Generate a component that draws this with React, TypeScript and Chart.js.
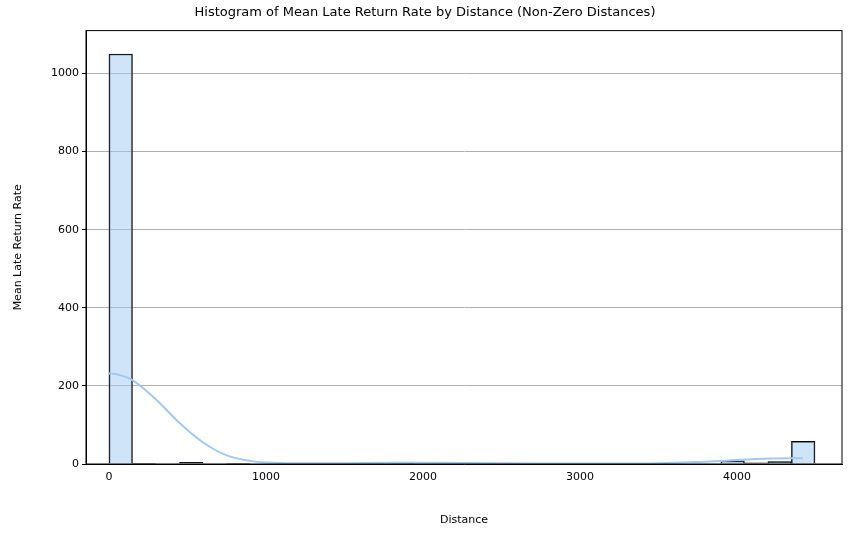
import React, { useEffect, useRef } from "react";
import { Chart, registerables } from "chart.js";
Chart.register(...registerables);

const binWidth = 149.9;
const binCounts = [1050, 2, 0, 4, 0, 1, 0, 0, 0, 0, 0, 0, 2, 0, 0, 0, 0, 0, 0, 0, 0, 0, 0, 0, 0, 0, 8, 3, 6, 58];
const kdeX = [0, 50, 150, 300, 450, 600, 750, 900, 1000, 1200, 1500, 1800, 2000, 2500, 3000, 3500, 3800, 4000, 4200, 4420];
const kdeY = [232, 230, 215, 165, 105, 55, 22, 8, 4, 2, 2, 3, 3, 2, 1, 2, 6, 10, 14, 15];
const xTicks = [0, 1000, 2000, 3000, 4000];
const yTicks = [0, 200, 400, 600, 800, 1000];

const font = "'DejaVu Sans', sans-serif";

export default function App() {
  const ref = useRef<HTMLCanvasElement>(null);
  useEffect(() => {
    const frame = {
      id: "frame",
      afterDraw(c: any) {
        const { ctx, chartArea: a } = c;
        ctx.save();
        ctx.strokeStyle = "#000";
        ctx.lineWidth = 1;
        ctx.strokeRect(a.left, a.top, a.right - a.left, a.bottom - a.top);
        ctx.restore();
      },
    };
    const chart = new Chart(ref.current!, {
      type: "bar",
      data: {
        datasets: [
          {
            type: "line",
            data: kdeX.map((x, i) => ({ x, y: kdeY[i] })),
            borderColor: "#a1c9f4",
            borderWidth: 2,
            pointRadius: 0,
            tension: 0.4,
            order: 0,
          } as any,
          {
            type: "bar",
            data: binCounts.map((y, i) => ({ x: (i + 0.5) * binWidth, y })),
            backgroundColor: "rgba(161,201,244,0.5)",
            borderColor: "#000",
            borderWidth: (c: any) => (c.raw && c.raw.y > 0 ? 1 : 0),
            barPercentage: 1,
            categoryPercentage: 1,
            order: 1,
          } as any,
        ],
      },
      options: {
        animation: false,
        responsive: false,
        layout: { padding: { left: 8, right: 17, top: 0, bottom: 14 } },
        plugins: {
          legend: { display: false },
          tooltip: { enabled: false },
          title: {
            display: true,
            text: "Histogram of Mean Late Return Rate by Distance (Non-Zero Distances)",
            color: "#000",
            font: { family: font, size: 13, weight: "normal" },
            padding: { top: 5, bottom: 10 },
          },
        },
        scales: {
          x: {
            type: "linear",
            min: -146,
            max: 4669,
            offset: false,
            afterBuildTicks: (s: any) => { s.ticks = xTicks.map((v) => ({ value: v })); },
            grid: { display: false, drawTicks: true, tickLength: 4 } as any,
            border: { color: "#000" },
            ticks: { color: "#000", font: { family: font, size: 11 }, maxRotation: 0, padding: 3, callback: (v: any) => String(v) },
            title: { display: true, text: "Distance", color: "#000", font: { family: font, size: 11 }, padding: { top: 4 } },
            afterFit: (s: any) => { s.height = 67; },
          },
          y: {
            min: 0,
            max: 1110,
            afterBuildTicks: (s: any) => { s.ticks = yTicks.map((v) => ({ value: v })); },
            grid: { color: "#b0b0b0", tickColor: "#000", tickLength: 4 },
            border: { color: "#000" },
            ticks: { color: "#000", font: { family: font, size: 11 }, padding: 3, callback: (v: any) => String(v) },
            title: { display: true, text: "Mean Late Return Rate", color: "#000", font: { family: font, size: 11 } },
            afterFit: (s: any) => { s.width = 78; },
          },
        },
      } as any,
      plugins: [frame],
    });
    return () => chart.destroy();
  }, []);
  return (
    <div style={{ position: "fixed", left: 0, top: 0, width: 859, height: 545, background: "#fff" }}>
      <canvas ref={ref} width={859} height={545} style={{ width: 859, height: 545 }} />
    </div>
  );
}
